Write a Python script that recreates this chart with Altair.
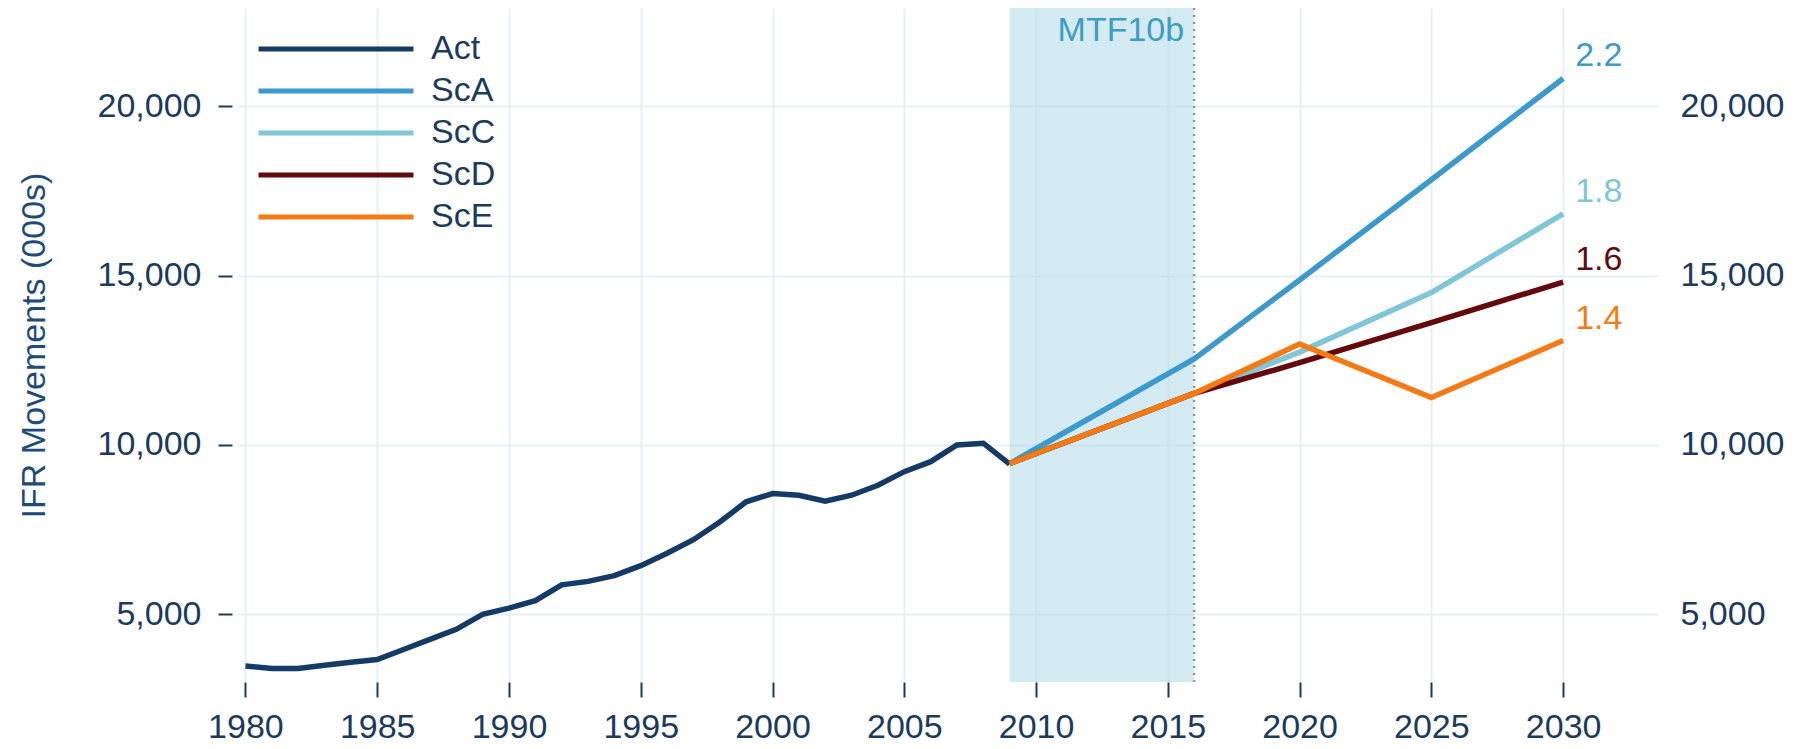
import altair as alt
import pandas as pd

# ---------------- data ----------------
act_years = list(range(1980, 2010))
act_values = [3470, 3400, 3400, 3495, 3585, 3665, 3960, 4260, 4555, 5000,
              5180, 5400, 5870, 5970, 6140, 6435, 6800, 7200, 7725, 8320,
              8565, 8515, 8340, 8515, 8810, 9210, 9505, 10000, 10050, 9430]

proj_years = [2009, 2016, 2020, 2025, 2030]
sca_values = [9450, 12540, 14870, 17830, 20820]
scc_values = [9450, 11520, 12740, 14500, 16820]
scd_values = [9450, 11520, 12430, 13610, 14810]
sce_values = [9450, 11520, 12980, 11400, 13080]

series_names = ["Act", "ScA", "ScC", "ScD", "ScE"]
series_colors = ["#143a66", "#3b9acb", "#80c6d7", "#640a0c", "#f47a16"]
end_series = ["ScA", "ScC", "ScD", "ScE"]
end_labels = ["2.2", "1.8", "1.6", "1.4"]

y_ticks = [5000, 10000, 15000, 20000]
x_ticks = [1980, 1985, 1990, 1995, 2000, 2005, 2010, 2015, 2020, 2025, 2030]
shade_start = [2009]
shade_end = [2016]
shade_label = ["MTF10b"]

# ---------------- tables ----------------
rows = []
for yr, v in zip(act_years, act_values):
    rows.append({"series": "Act", "year": yr, "value": v})
for name, vals in [("ScA", sca_values), ("ScC", scc_values),
                   ("ScD", scd_values), ("ScE", sce_values)]:
    for yr, v in zip(proj_years, vals):
        rows.append({"series": name, "year": yr, "value": v})
df = pd.DataFrame(rows)

end_vals = {"ScA": sca_values[-1], "ScC": scc_values[-1],
            "ScD": scd_values[-1], "ScE": sce_values[-1]}
ends = pd.DataFrame({"series": end_series,
                     "year": [proj_years[-1]] * len(end_series),
                     "value": [end_vals[s] for s in end_series],
                     "label": end_labels})

shade_df = pd.DataFrame({"start": shade_start, "end": shade_end,
                         "label": shade_label})

# ---------------- styling ----------------
FONT = "Liberation Sans"
NAVY = "#1b3a5c"
GRID = "#e6f1f5"
W, H = 1421, 674

xscale = alt.Scale(domain=[1979.68, 2033.6], nice=False, zero=False)
yscale = alt.Scale(domain=[3000, 22900], nice=False, zero=False)
color_scale = alt.Scale(domain=series_names, range=series_colors)

x_axis = alt.Axis(values=x_ticks, format="d", title=None, grid=True,
                  gridColor=GRID, gridWidth=2, domain=False, ticks=True,
                  tickSize=15, tickWidth=2, tickColor=NAVY, labelPadding=13,
                  labelFontSize=34, labelFont=FONT, labelColor=NAVY)

y_axis_left = alt.Axis(values=y_ticks, format=",d",
                       title="IFR Movements (000s)", grid=True,
                       gridColor=GRID, gridWidth=2, domain=False, ticks=True,
                       tickSize=14, tickWidth=2, tickColor=NAVY, offset=5,
                       labelPadding=17, labelFontSize=34, labelFont=FONT,
                       labelColor=NAVY, titleFont=FONT, titleFontSize=34,
                       titleFontWeight="normal", titleColor="#1f4b78",
                       titlePadding=46)

y_axis_right = alt.Axis(values=y_ticks, format=",d", orient="right",
                        title=None, grid=False, domain=False, ticks=False,
                        labelPadding=22, labelFontSize=34, labelFont=FONT,
                        labelColor=NAVY)

# long horizontal stroke symbol; custom path is 8 units wide, so its
# drawn length is 4 * sqrt(size) while the row height follows sqrt(size)
legend = alt.Legend(title=None, orient="none", legendX=77, legendY=19,
                    symbolType="M-4,0H4", symbolSize=1501,
                    symbolStrokeWidth=5, labelFontSize=34, labelFont=FONT,
                    labelColor=NAVY, labelOffset=73, rowPadding=3)

# ---------------- layers ----------------
shade = alt.Chart(shade_df).mark_rect(color="#a9d6e6", opacity=0.5).encode(
    x=alt.X("start:Q", scale=xscale, axis=x_axis),
    x2="end:Q",
    y=alt.value(0),
    y2=alt.value(H),
)

vline = alt.Chart(shade_df).mark_rule(
    color="#8e969e", strokeWidth=2.5, strokeDash=[2, 5]
).encode(x=alt.X("end:Q", scale=xscale))

shade_text = alt.Chart(shade_df).mark_text(
    align="right", baseline="top", dx=-10, fontSize=34, font=FONT,
    color="#3d9ec2"
).encode(x=alt.X("end:Q", scale=xscale), y=alt.value(6), text="label:N")

lines = alt.Chart(df).mark_line(strokeWidth=5.5).encode(
    x=alt.X("year:Q", scale=xscale),
    y=alt.Y("value:Q", scale=yscale, axis=y_axis_left),
    color=alt.Color("series:N", scale=color_scale, legend=legend,
                    sort=series_names),
    detail="series:N",
)

labels = alt.Chart(ends).mark_text(
    align="left", baseline="middle", dx=12, dy=-22, fontSize=34, font=FONT
).encode(
    x=alt.X("year:Q", scale=xscale),
    y=alt.Y("value:Q", scale=yscale, axis=y_axis_right),
    text="label:N",
    color=alt.Color("series:N", scale=color_scale, legend=None),
)

chart = alt.layer(shade, vline, shade_text, lines, labels).resolve_scale(
    y="independent"
).resolve_legend(color="independent").properties(
    width=W, height=H,
    autosize=alt.AutoSizeParams(type="none"),
    padding={"left": 229, "top": 0, "right": 140, "bottom": 64},
    background="white",
).configure_view(stroke=None)

chart.save("out.html", embed_options={"renderer": "svg", "actions": False})
